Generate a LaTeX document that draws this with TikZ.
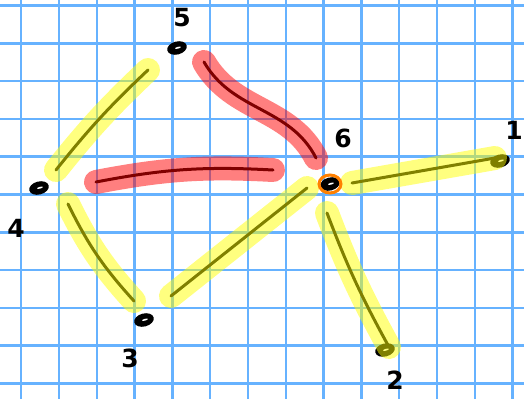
\documentclass[tikz,border=0pt]{standalone}
\usepackage{fontspec}
\newfontfamily\handfont{DejaVu Sans}
\usepackage{xcolor}
\definecolor{gridblue}{RGB}{102,178,255}
\definecolor{hlyellow}{RGB}{255,255,0}
\definecolor{hlred}{RGB}{255,0,0}
\definecolor{edgeolive}{RGB}{128,128,0}
\definecolor{edgered}{RGB}{128,0,0}
\definecolor{ringorange}{RGB}{255,128,0}
\usepackage{tikz}
\usetikzlibrary{calc,shapes.geometric}
\tikzset{
  vtx/.style={ellipse,fill=black,minimum width=20pt,minimum height=13pt,inner sep=0pt,rotate=15,
    path picture={\fill[white] ([xshift=1pt]path picture bounding box.center) ellipse [x radius=3pt,y radius=0.9pt];}},
  num/.style={font=\handfont\bfseries\fontsize{25}{27}\selectfont,inner sep=0pt},
  yel/.style={draw=edgeolive,line width=3pt,line cap=round,
    preaction={draw=hlyellow,draw opacity=.5,line width=24pt,line cap=round}},
  hlr/.style={draw=edgered,line width=3pt,line cap=round,
    preaction={draw=hlred,draw opacity=.5,line width=24pt,line cap=round}}
}

\begin{document}
\begin{tikzpicture}[x=1pt,y=-1pt]
\useasboundingbox (0,0) rectangle (524,399);
% ---- grid paper ----
\foreach \i in {0,...,13}{
  \draw[gridblue,line width=2.5pt] (21.2+37.8*\i,0) -- (21.2+37.8*\i,399);}
\foreach \j in {0,...,10}{
  \draw[gridblue,line width=2.5pt] (0,5.5+37.8*\j) -- (524,5.5+37.8*\j);}
% ---- vertices ----
\node[vtx] (v1) at (500,161) {};
\node[vtx] (v2) at (385,350) {};
\node[vtx] (v3) at (144,320) {};
\node[vtx] (v4) at (39,188) {};
\node[vtx] (v5) at (177,48) {};
\node[vtx] (v6) at (330,184) {};
\node[num] (t1) at (514,130) {1};
\node[num] (t2) at (395,380) {2};
\node[num] (t3) at (130,358) {3};
\node[num] (t4) at (16,228) {4};
\node[num] (t5) at (182,18) {5};
\node[num] (t6) at (343,138) {6};
% ---- yellow edges ----
\draw[yel] ($(v5)+(-29,22)$) to[bend right=4] ($(v4)+(17,-18)$);
\draw[yel] ($(v4)+(29,16)$) to[bend right=8] ($(v3)+(-10,-19)$);
\draw[yel] ($(v3)+(27,-24)$) -- ($(v6)+(-23,4)$);
\draw[yel] ($(v6)+(22,-1)$) -- ($(v1)+(-5,-3)$);
\draw[yel] ($(v6)+(-3,29)$) to[bend right=4] ($(v2)+(4,-3)$);
% ---- red edges ----
\draw[hlr] ($(v5)+(27,14)$) to[out=-60,in=117] ($(v6)+(-14,-26)$);
\draw[hlr] ($(v4)+(57,-6)$) to[bend left=7] ($(v6)+(-57,-14)$);
% marked vertex
\draw[ringorange,line width=3pt] (v6) ellipse [x radius=11pt,y radius=9pt];
\end{tikzpicture}
\end{document}
